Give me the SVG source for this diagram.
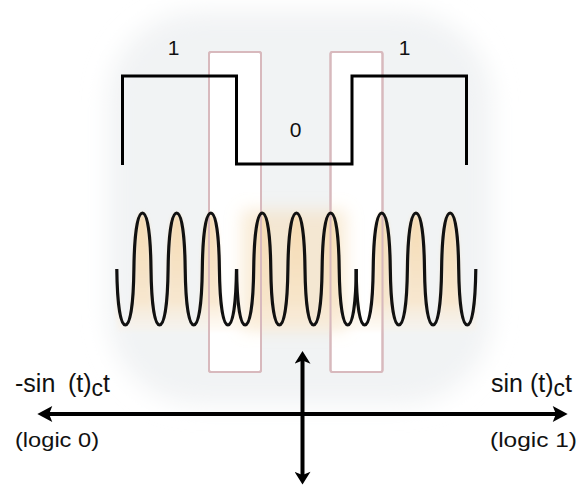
<svg xmlns="http://www.w3.org/2000/svg" xmlns:xlink="http://www.w3.org/1999/xlink" width="585" height="487" viewBox="0 0 585 487">
  <style>
    .lbl { font-family: "Liberation Sans", Arial, sans-serif; fill: #111; }
    .wave { fill: none; stroke: #111; stroke-width: 3.2; stroke-linejoin: round; }
    .sq { fill: none; stroke: #000; stroke-width: 3; stroke-linejoin: miter; stroke-linecap: butt; }
    .win { fill: #fff; stroke: #d8b9bd; stroke-width: 2; }
    .axis { stroke: #000; stroke-width: 4; fill: none; }
  </style>
  <defs>
    <filter id="blurBig" x="-20%" y="-20%" width="140%" height="140%">
      <feGaussianBlur stdDeviation="12"/>
    </filter>
    <filter id="blurSmall" x="-20%" y="-20%" width="140%" height="140%">
      <feGaussianBlur stdDeviation="2"/>
    </filter>
    <filter id="blurMid" x="-30%" y="-30%" width="160%" height="160%">
      <feGaussianBlur stdDeviation="8"/>
    </filter>
    <linearGradient id="peach" x1="0" y1="0" x2="0" y2="1">
      <stop offset="0" stop-color="#f5d9ae" stop-opacity="0.95"/>
      <stop offset="0.75" stop-color="#f8e5c9" stop-opacity="0.85"/>
      <stop offset="1" stop-color="#fcf2e4" stop-opacity="0.3"/>
    </linearGradient>
    <path id="seg" d="M0,0
      c0.43,33.6 3.25,56 8.55,56 c5.3,0 8.12,-22.4 8.55,-56 c0.43,-33.6 3.25,-56 8.55,-56 c5.3,0 8.12,22.4 8.55,56
      c0.43,33.6 3.25,56 8.55,56 c5.3,0 8.12,-22.4 8.55,-56 c0.43,-33.6 3.25,-56 8.55,-56 c5.3,0 8.12,22.4 8.55,56
      c0.43,33.6 3.25,56 8.55,56 c5.3,0 8.12,-22.4 8.55,-56 c0.43,-33.6 3.25,-56 8.55,-56 c5.3,0 8.12,22.4 8.55,56
      c0.43,33.6 3.25,56 8.55,56 c5.3,0 8.12,-22.4 8.55,-56"/>
    <path id="segfill" d="M0,0
      c0.43,33.6 3.25,56 8.55,56 c5.3,0 8.12,-22.4 8.55,-56 c0.43,-33.6 3.25,-56 8.55,-56 c5.3,0 8.12,22.4 8.55,56
      c0.43,33.6 3.25,56 8.55,56 c5.3,0 8.12,-22.4 8.55,-56 c0.43,-33.6 3.25,-56 8.55,-56 c5.3,0 8.12,22.4 8.55,56
      c0.43,33.6 3.25,56 8.55,56 c5.3,0 8.12,-22.4 8.55,-56 c0.43,-33.6 3.25,-56 8.55,-56 c5.3,0 8.12,22.4 8.55,56
      c0.43,33.6 3.25,56 8.55,56 c5.3,0 8.12,-22.4 8.55,-56 L119.7,62 L0,62 Z"/>
    <marker id="headH" markerUnits="userSpaceOnUse" markerWidth="16" markerHeight="16" refX="4" refY="7.5" orient="auto-start-reverse" viewBox="0 0 14 15">
      <path d="M0,0 L14,7.5 L0,15 L3,7.5 Z" fill="#000"/>
    </marker>
    <marker id="headV" markerUnits="userSpaceOnUse" markerWidth="16" markerHeight="16" refX="4" refY="7.5" orient="auto-start-reverse" viewBox="0 0 12 15">
      <path d="M0,0 L12,7.5 L0,15 L3,7.5 Z" fill="#000"/>
    </marker>
  </defs>

  <rect width="585" height="487" fill="#fff"/>

  <g id="background">
    <rect x="108" y="12" width="384" height="392" rx="90" fill="#f1f3f4" filter="url(#blurBig)"/>
  </g>

  <g id="bit-windows">
    <rect id="window-1" class="win" x="209" y="52" width="52" height="320" rx="2"/>
    <rect id="window-2" class="win" x="330.5" y="52" width="52" height="320" rx="2"/>
  </g>

  <g id="carrier-glow" filter="url(#blurSmall)">
    <rect x="242" y="210" width="104" height="120" fill="#f6dfbc" opacity="0.6" filter="url(#blurMid)"/>
    <use xlink:href="#segfill" href="#segfill" transform="translate(116.8,269)" fill="url(#peach)"/>
    <use xlink:href="#segfill" href="#segfill" transform="translate(236.6,269)" fill="url(#peach)"/>
    <use xlink:href="#segfill" href="#segfill" transform="translate(356.1,269)" fill="url(#peach)"/>
  </g>

  <g id="window-edges" fill="none" stroke="#d8b9bd" stroke-width="2">
    <rect x="209" y="52" width="52" height="320" rx="2"/>
    <rect x="330.5" y="52" width="52" height="320" rx="2"/>
  </g>

  <g id="data-signal">
    <path class="sq" d="M122.5,165 V76 H236.5 V164 H352 V76 H466.5 V165"/>
    <text class="lbl" x="173.5" y="55" font-size="21" text-anchor="middle">1</text>
    <text class="lbl" x="295.7" y="137" font-size="21" text-anchor="middle">0</text>
    <text class="lbl" x="404.5" y="55" font-size="21" text-anchor="middle">1</text>
  </g>

  <g id="bpsk-signal">
    <use class="wave" xlink:href="#seg" href="#seg" transform="translate(116.8,269)"/>
    <use class="wave" xlink:href="#seg" href="#seg" transform="translate(236.6,269)"/>
    <use class="wave" xlink:href="#seg" href="#seg" transform="translate(356.1,269)"/>
  </g>

  <g id="connectors">
    <line class="axis" x1="48" y1="414" x2="557" y2="414" marker-start="url(#headH)" marker-end="url(#headH)"/>
    <line class="axis" x1="302.5" y1="359.5" x2="302.5" y2="476" stroke-width="3.5" marker-start="url(#headV)" marker-end="url(#headV)"/>
  </g>

  <g id="label-logic0">
    <text class="lbl" x="15" y="392" font-size="25">-sin<tspan x="68">(t)</tspan><tspan dy="4" font-size="23">c</tspan><tspan dy="-4">t</tspan></text>
    <text class="lbl" x="15" y="447" font-size="20" textLength="84" lengthAdjust="spacingAndGlyphs">(logic 0)</text>
  </g>

  <g id="label-logic1">
    <text class="lbl" x="491" y="392" font-size="25">sin (t)<tspan dy="4" font-size="23">c</tspan><tspan dy="-4">t</tspan></text>
    <text class="lbl" x="490" y="447" font-size="20" textLength="87" lengthAdjust="spacingAndGlyphs">(logic 1)</text>
  </g>
</svg>
